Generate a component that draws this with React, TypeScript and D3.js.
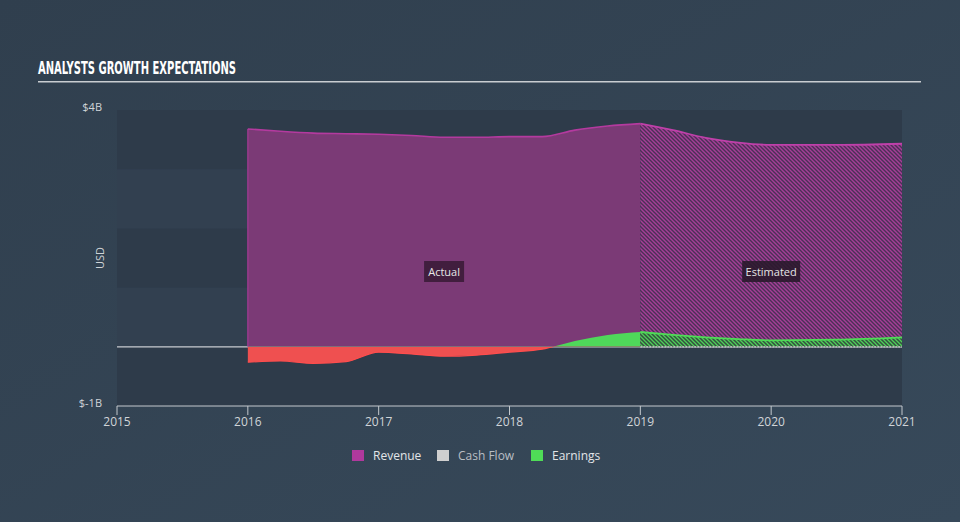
import React from "react";
import * as d3 from "d3";

// ---- Data ----
const actualYears = [2016, 2016.25, 2016.5, 2016.75, 2017, 2017.25, 2017.5, 2017.75, 2018, 2018.25, 2018.5, 2018.75, 2019];
const revenueActual = [3.68, 3.64, 3.61, 3.6, 3.59, 3.57, 3.54, 3.54, 3.55, 3.55, 3.66, 3.73, 3.77];
const earningsActual = [-0.26, -0.24, -0.28, -0.25, -0.09, -0.12, -0.16, -0.14, -0.09, -0.04, 0.1, 0.2, 0.25];

const estimateYears = [2019, 2019.25, 2019.5, 2019.75, 2020, 2020.5, 2021];
const revenueEstimate = [3.77, 3.66, 3.53, 3.45, 3.41, 3.41, 3.43];
const earningsEstimate = [0.25, 0.2, 0.16, 0.13, 0.11, 0.12, 0.16];
const cashFlowEstimate = [0.0, 0.0, 0.0, 0.0, 0.0, 0.0, 0.0];

const xTicks = [2015, 2016, 2017, 2018, 2019, 2020, 2021];
const yTickLabels = [
  { v: 4, label: "$4B" },
  { v: -1, label: "$-1B" },
];
const legendItems = [
  { name: "Revenue", color: "#b0399d" },
  { name: "Cash Flow", color: "#cfcfcf" },
  { name: "Earnings", color: "#4fdc57" },
];

const W = 960;
const H = 522;
const plot = { left: 117, right: 902, top: 110, bottom: 406 };

export default function App() {
  const x = d3.scaleLinear().domain([2015, 2021]).range([plot.left, plot.right]);
  const y = d3.scaleLinear().domain([-1, 4]).range([plot.bottom, plot.top]);
  const y0 = y(0);

  const toPts = (xs: number[], vs: number[]) => xs.map((t, i) => ({ t, v: vs[i] }));
  const revA = toPts(actualYears, revenueActual);
  const revE = toPts(estimateYears, revenueEstimate);
  const earnA = toPts(actualYears, earningsActual);
  const earnE = toPts(estimateYears, earningsEstimate);
  const cfE = toPts(estimateYears, cashFlowEstimate);

  const curve = d3.curveMonotoneX;
  const area = d3
    .area<{ t: number; v: number }>()
    .x((d) => x(d.t))
    .y0(y0)
    .y1((d) => y(d.v))
    .curve(curve);
  const line = d3
    .line<{ t: number; v: number }>()
    .x((d) => x(d.t))
    .y((d) => y(d.v))
    .curve(curve);

  const bands = d3.range(-1, 4).map((v) => ({ v, top: y(v + 1), bottom: y(v) }));

  const fontMain = "'Open Sans', 'Lato', 'DejaVu Sans', sans-serif";

  return (
    <svg
      width={W}
      height={H}
      style={{ position: "absolute", left: 0, top: 0, display: "block" }}
    >
      <defs>
        <linearGradient id="bgGrad" x1="0" y1="0" x2="1" y2="1">
          <stop offset="0" stopColor="#303f4e" />
          <stop offset="1" stopColor="#37495a" />
        </linearGradient>
        <pattern id="hatchRev" patternUnits="userSpaceOnUse" width="4" height="4">
          <rect width="4" height="4" fill="#4b3056" />
          <path d="M-1,-1 L5,5 M-1,3 L1,5 M3,-1 L5,1" stroke="#a63e98" strokeWidth="1.4" />
        </pattern>
        <pattern id="hatchEarn" patternUnits="userSpaceOnUse" width="4" height="4">
          <rect width="4" height="4" fill="#33503f" />
          <path d="M-1,-1 L5,5 M-1,3 L1,5 M3,-1 L5,1" stroke="#4fcf58" strokeWidth="1.3" />
        </pattern>
        <clipPath id="clipAbove">
          <rect x={plot.left} y={plot.top - 20} width={plot.right - plot.left} height={y0 - plot.top + 20} />
        </clipPath>
        <clipPath id="clipBelow">
          <rect x={plot.left} y={y0} width={plot.right - plot.left} height={plot.bottom - y0} />
        </clipPath>
      </defs>

      <rect width={W} height={H} fill="url(#bgGrad)" />

      {/* title */}
      <text
        x={38}
        y={74}
        fill="#ffffff"
        fontFamily="'Liberation Sans Narrow', 'DejaVu Sans Condensed', 'Roboto', sans-serif"
        fontWeight="bold"
        fontSize={18}
        textLength={198}
        lengthAdjust="spacingAndGlyphs"
      >
        ANALYSTS GROWTH EXPECTATIONS
      </text>
      <rect x={38} y={81} width={883} height={1.5} fill="#c9cdd1" />

      {/* plot bands */}
      {bands.map((b) => (
        <rect
          key={b.v}
          x={plot.left}
          y={b.top}
          width={plot.right - plot.left}
          height={b.bottom - b.top}
          fill={(b.v + 1) % 2 === 0 ? "#2e3b4a" : "#324050"}
        />
      ))}

      {/* zero line */}
      <line x1={plot.left} x2={plot.right} y1={y0} y2={y0} stroke="#c8ccd0" strokeWidth={1.2} />

      {/* revenue actual */}
      <path d={area(revA) || ""} fill="#7b3a76" />
      {/* revenue estimate */}
      <path d={area(revE) || ""} fill="url(#hatchRev)" />

      {/* earnings actual */}
      <path d={area(earnA) || ""} fill="#4fd85a" clipPath="url(#clipAbove)" />
      <path d={area(earnA) || ""} fill="#ef5050" clipPath="url(#clipBelow)" />
      <path d={line(earnA) || ""} fill="none" stroke="#ff4d4d" strokeWidth={1.2} clipPath="url(#clipBelow)" />
      {/* earnings estimate */}
      <path d={area(earnE) || ""} fill="url(#hatchEarn)" />
      <path d={line(earnE) || ""} fill="none" stroke="#4fdc57" strokeWidth={1.8} />

      {/* cash flow estimate */}
      <path d={line(cfE) || ""} fill="none" stroke="#d0d0d0" strokeWidth={1.2} strokeDasharray="2,1" />

      {/* revenue lines */}
      <path d={line(revA) || ""} fill="none" stroke="#b43a9f" strokeWidth={1.6} />
      <path d={line(revE) || ""} fill="none" stroke="#c040aa" strokeWidth={1.8} />
      <line x1={x(2016)} x2={x(2016)} y1={y(revenueActual[0])} y2={y0} stroke="#b43a9f" strokeWidth={1} />

      {/* Actual / Estimated labels */}
      <g fontFamily={fontMain} fontSize={11} fill="#e6e6e6">
        <rect x={(x(2016) + x(2019)) / 2 - 20} y={261} width={40} height={21} fill="#3b1c39" opacity={0.9} />
        <text x={(x(2016) + x(2019)) / 2} y={275.5} textAnchor="middle" fill="#e6e6e6">
          Actual
        </text>
        <rect x={(x(2019) + x(2021)) / 2 - 29} y={261} width={58} height={21} fill="#2a1a2c" opacity={0.9} />
        <text x={(x(2019) + x(2021)) / 2} y={275.5} textAnchor="middle" fill="#e6e6e6">
          Estimated
        </text>
      </g>

      {/* y axis labels */}
      <g fontFamily={fontMain} fontSize={11} fill="#d0d4d8">
        {yTickLabels.map((t) => (
          <text key={t.label} x={102} y={y(t.v) + 1} textAnchor="end">
            {t.label}
          </text>
        ))}
        <text
          transform={`translate(${104},${258}) rotate(-90)`}
          textAnchor="middle"
          fontSize={11}
        >
          USD
        </text>
      </g>

      {/* x axis */}
      <line x1={plot.left} x2={plot.right} y1={plot.bottom} y2={plot.bottom} stroke="#c3c8cd" strokeWidth={1} />
      <g fontFamily={fontMain} fontSize={12} fill="#d0d4d8">
        {xTicks.map((t) => (
          <g key={t}>
            <line x1={x(t)} x2={x(t)} y1={plot.bottom} y2={plot.bottom + 9} stroke="#c3c8cd" strokeWidth={1} />
            <text x={x(t)} y={plot.bottom + 20} textAnchor="middle">
              {t}
            </text>
          </g>
        ))}
      </g>

      {/* legend */}
      <g fontFamily={fontMain} fontSize={12}>
        {legendItems.map((item, i) => {
          const xs = [352, 437, 531][i];
          return (
            <g key={item.name}>
              <rect x={xs} y={450} width={12} height={11} fill={item.color} />
              <text x={xs + 21} y={460} fill={i === 1 ? "#b9bec4" : "#e2e5e8"}>
                {item.name}
              </text>
            </g>
          );
        })}
      </g>
    </svg>
  );
}
